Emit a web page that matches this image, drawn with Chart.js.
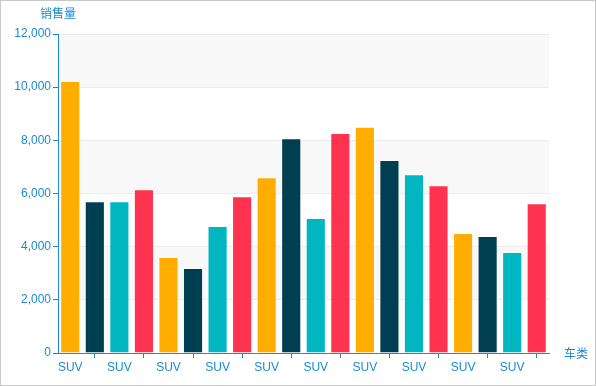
<!DOCTYPE html>
<html>
<head>
<meta charset="utf-8">
<script src="https://cdn.jsdelivr.net/npm/chart.js"></script>
<style>
  html, body { margin: 0; padding: 0; background: #fff; }
  #wrap { width: 596px; height: 386px; box-sizing: border-box; border: 1px solid #c8c8c8; }
</style>
</head>
<body>
<div id="wrap"><canvas id="myChart" width="594" height="384"></canvas></div>
<script>
const categories = ['SUV', 'SUV', 'SUV', 'SUV', 'SUV', 'SUV', 'SUV', 'SUV', 'SUV', 'SUV',
  'SUV', 'SUV', 'SUV', 'SUV', 'SUV', 'SUV', 'SUV', 'SUV', 'SUV', 'SUV'];
const sales = [10230, 5710, 5710, 6160, 3610, 3200, 4780, 5900, 6610, 8080,
  5080, 8280, 8510, 7260, 6720, 6310, 4510, 4400, 3800, 5630];
const palette = ['#ffae00', '#003f52', '#00b7c1', '#ff3350'];
const yTitle = '销售量';
const xTitle = '车类';

const blue = '#1b8bd0';
const fontTick = { family: 'Liberation Sans, Arial', size: 12 };

const bands = {
  id: 'bands',
  beforeDraw(chart) {
    const { ctx, chartArea, scales } = chart;
    const y = scales.y;
    ctx.save();
    ctx.fillStyle = '#f8f8f8';
    for (let v = 2000; v < 12000; v += 4000) {
      const top = y.getPixelForValue(v + 2000);
      const bot = y.getPixelForValue(v);
      ctx.fillRect(chartArea.left, top, chartArea.right - chartArea.left, bot - top);
    }
    ctx.restore();
  },
  afterDraw(chart) {
    const { ctx, chartArea } = chart;
    ctx.save();
    ctx.fillStyle = blue;
    ctx.font = '12px "Noto Sans CJK SC"';
    ctx.textBaseline = 'middle';
    ctx.textAlign = 'center';
    ctx.fillText(yTitle, chartArea.left, chartArea.top - 21);
    ctx.textAlign = 'left';
    ctx.fillText(xTitle, chartArea.right + 15, chartArea.bottom);
    ctx.restore();
  }
};

new Chart(document.getElementById('myChart'), {
  type: 'bar',
  data: {
    labels: categories,
    datasets: [{
      data: sales,
      backgroundColor: sales.map((v, i) => palette[i % 4]),
      borderColor: 'rgba(255,255,255,0.5)',
      borderWidth: 1,
      barPercentage: 0.82,
      categoryPercentage: 1
    }]
  },
  options: {
    responsive: false,
    animation: false,
    layout: { padding: { top: 33, right: 46, left: 0, bottom: 0 } },
    plugins: { legend: { display: false }, tooltip: { enabled: false } },
    scales: {
      x: {
        offset: true,
        grid: {
          offset: false,
          drawOnChartArea: false,
          tickLength: 5,
          tickColor: c => (c.index % 2 === 1 ? blue : 'rgba(0,0,0,0)')
        },
        border: { color: blue, width: 1 },
        ticks: {
          autoSkip: false,
          maxRotation: 0,
          color: blue,
          font: fontTick,
          padding: 2,
          callback: (v, i) => (i % 2 === 0 ? categories[i] : '')
        },
        afterFit: s => { s.height = 32; }
      },
      y: {
        min: 0,
        max: 12000,
        ticks: { stepSize: 2000, color: blue, font: fontTick, padding: 2 },
        grid: {
          color: c => (c.tick && c.tick.value === 0 ? 'rgba(0,0,0,0)' : '#ececec'),
          tickColor: blue,
          tickLength: 5
        },
        border: { color: blue, width: 1 },
        afterFit: s => { s.width = 57; }
      }
    }
  },
  plugins: [bands]
});
</script>
</body>
</html>
